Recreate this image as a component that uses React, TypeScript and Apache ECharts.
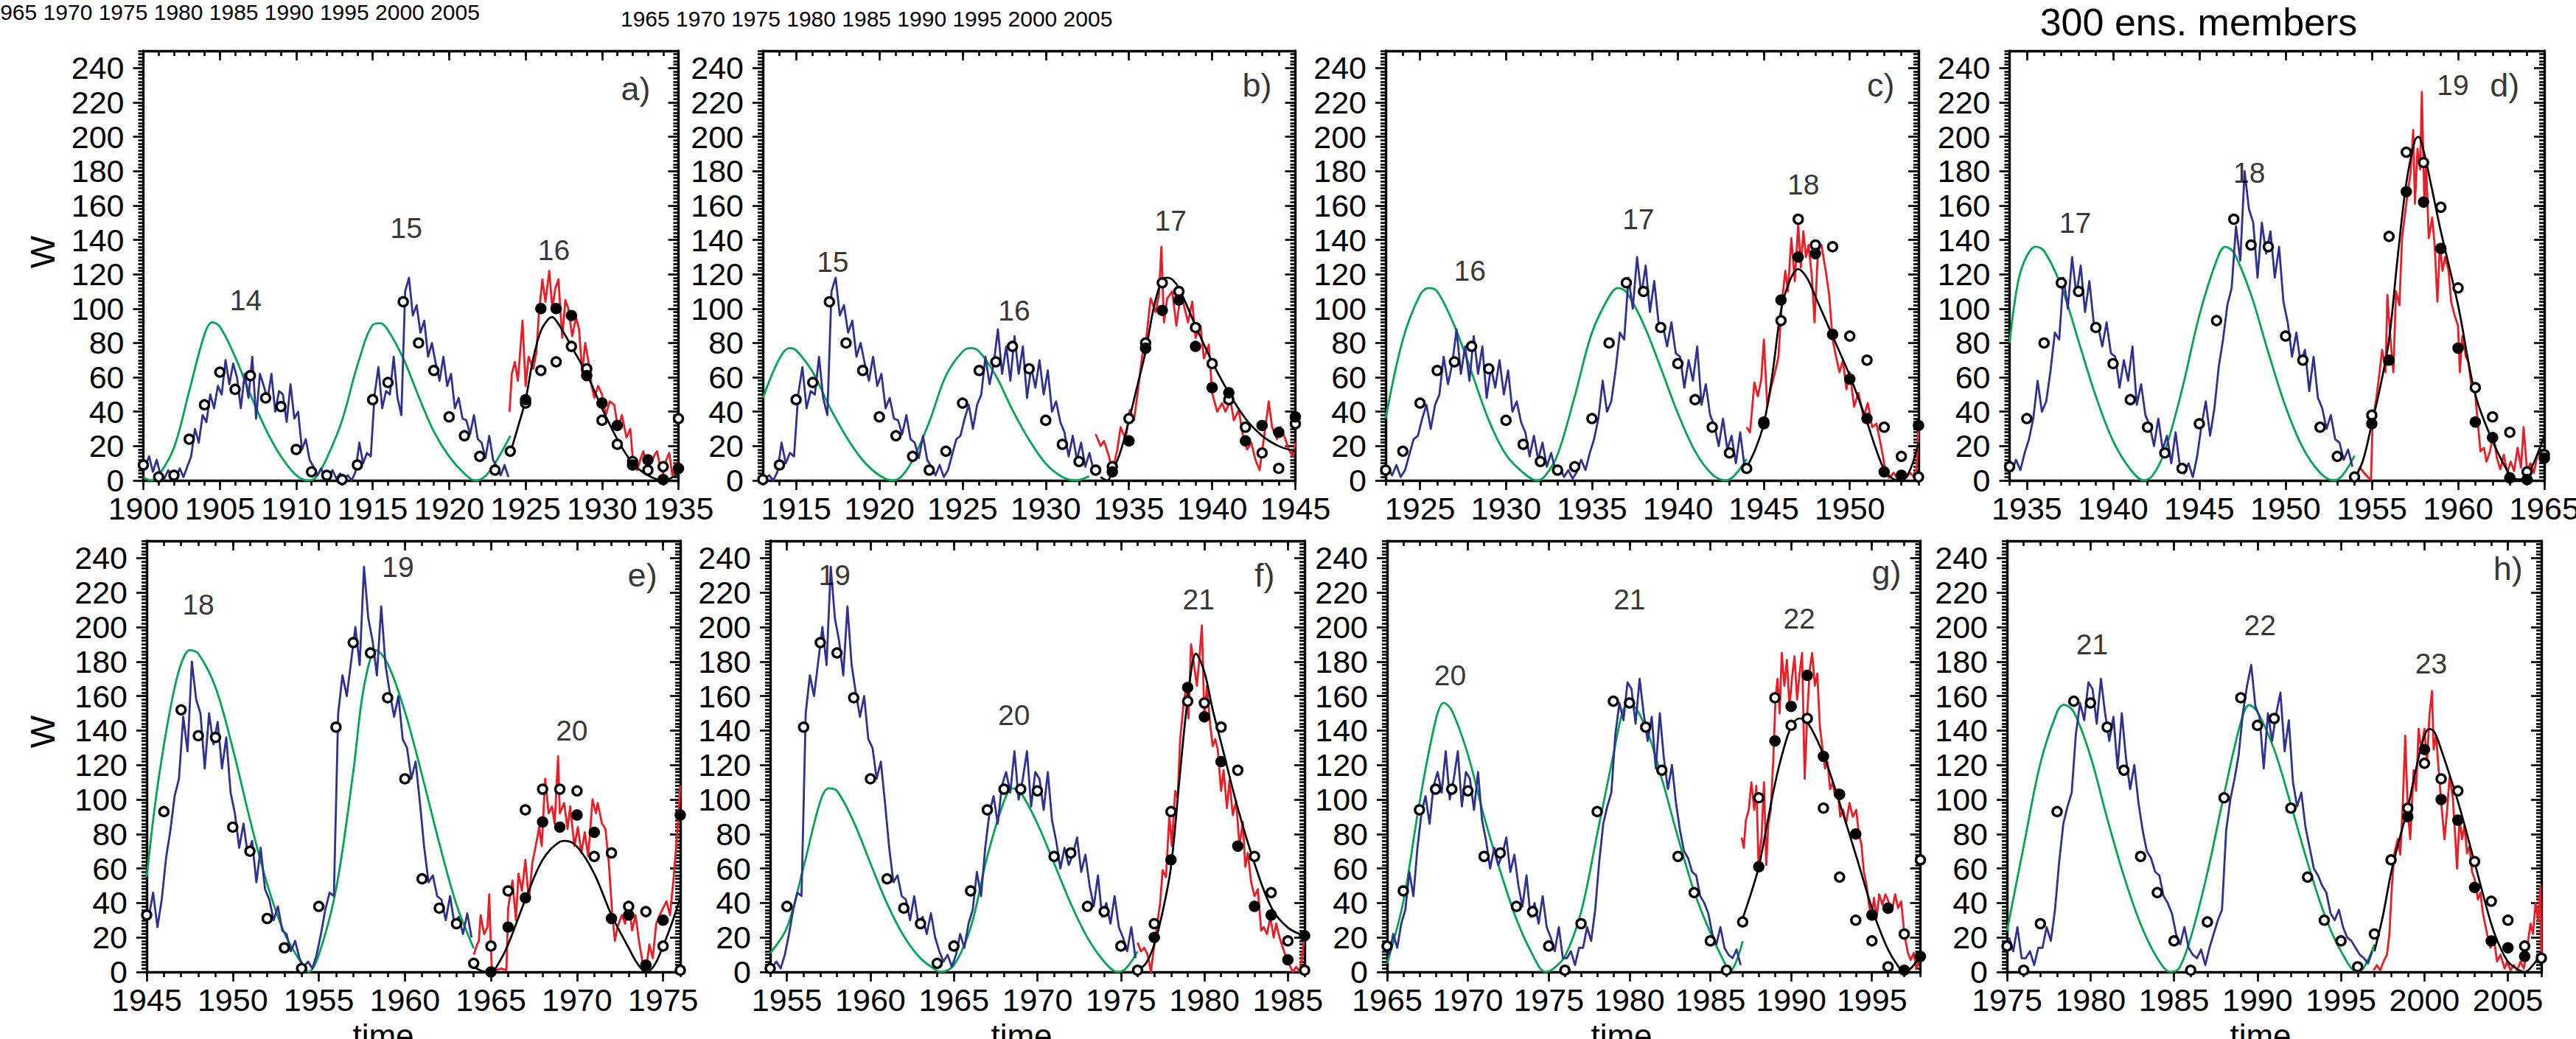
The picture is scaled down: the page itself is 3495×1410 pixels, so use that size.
import React, { useEffect, useRef } from "react";
import * as echarts from "echarts";

const FONT = "'Liberation Sans', Arial, Helvetica, sans-serif";
const BLUE = "#2e3192";
const RED = "#ed1c24";
const GREEN = "#00a651";
const BLACK = "#000000";

const Y_TICK_VALUES = [0, 20, 40, 60, 80, 100, 120, 140, 160, 180, 200, 220, 240];
const Y_MAX = 250;

const OBS_FIRST_YEAR = 1900;
const OBS_QUARTERLY = [
  [8, 14, 5, 12], [3, 1, 6, 2], [1, 7, 2, 8], [14, 30, 22, 38], [34, 50, 42, 55],
  [50, 70, 56, 68], [60, 42, 62, 48], [72, 36, 62, 55], [47, 62, 40, 52], [50, 34, 56, 36],
  [40, 18, 24, 12], [8, 3, 7, 2], [2, 6, 1, 4], [1, 3, 0, 5], [22, 10, 16, 14],
  [50, 66, 42, 52], [50, 72, 48, 38], [110, 118, 96, 102], [86, 93, 72, 80], [68, 58, 72, 55],
  [62, 42, 48, 36], [35, 27, 38, 24], [22, 13, 26, 12], [8, 3, 9, 2], [6, 15, 24, 26],
  [36, 44, 30, 44], [50, 72, 56, 68], [88, 62, 78, 58], [84, 62, 78, 48], [66, 54, 70, 50],
  [64, 40, 46, 34], [28, 14, 26, 12], [22, 8, 16, 6], [8, 2, 6, 1], [5, 12, 6, 16],
  [24, 36, 58, 40], [46, 64, 86, 82], [118, 100, 130, 108], [125, 98, 116, 92], [90, 78, 92, 74],
  [72, 54, 70, 58], [78, 44, 56, 38], [32, 20, 36, 18], [26, 10, 28, 8], [4, 10, 2, 14],
  [32, 46, 26, 42], [66, 82, 102, 112], [148, 128, 180, 158], [150, 118, 150, 132], [145, 118, 136, 104],
  [92, 72, 86, 68], [76, 52, 72, 48], [42, 30, 38, 24], [22, 12, 18, 8], [3, 6, 2, 10],
  [22, 36, 46, 44], [150, 172, 160, 180], [200, 178, 235, 205], [192, 172, 212, 178], [162, 148, 160, 135],
  [130, 112, 122, 98], [72, 52, 56, 44], [42, 30, 44, 28], [32, 22, 34, 20], [12, 6, 10, 3],
  [10, 22, 14, 28], [36, 58, 44, 72], [92, 102, 86, 108], [116, 104, 128, 100], [112, 128, 96, 116],
  [112, 94, 116, 88], [76, 60, 72, 62], [68, 78, 58, 68], [50, 38, 56, 32], [40, 28, 44, 26],
  [20, 12, 26, 8], [8, 12, 4, 14], [14, 26, 18, 36], [64, 86, 96, 104], [138, 156, 146, 168],
  [164, 144, 170, 150], [134, 148, 118, 150], [124, 106, 120, 98], [82, 70, 66, 58], [56, 44, 40, 34],
  [22, 16, 26, 14], [10, 8, 13, 4], [14, 22, 30, 36], [82, 100, 112, 126], [150, 166, 178, 154],
  [148, 118, 150, 134], [150, 162, 128, 146], [110, 96, 104, 84], [72, 60, 56, 50], [46, 34, 30, 36],
  [26, 20, 18, 14], [10, 8, 5, 12],
];

// Annual values (open circles)
const ANNUAL_FIRST_YEAR = 1900;
const ANNUAL_MEANS = [
  9, 2, 3, 24, 44, 63, 53, 61, 48, 43,
  18, 5, 3, 0.5, 9, 47, 57, 104, 80, 64,
  37, 26, 14, 6, 17, 45, 64, 69, 78, 65,
  35, 21, 11, 6, 8, 36, 80, 115, 110, 89,
  68, 47, 31, 16, 7, 33, 93, 152, 137, 136,
  84, 70, 31, 14, 2, 38, 142, 191, 185, 159,
  112, 54, 37, 28, 5, 15, 47, 94, 106, 106,
  105, 67, 69, 38, 35, 15, 1, 28, 93, 157,
  156, 142, 117, 67, 46, 18, 1, 29, 101, 159,
  143, 147, 95, 55, 30, 18, 3, 22, 65, 95,
  121, 112, 105, 64, 41, 30, 15, 8,
];

// Green model curves
const GREEN_A = [[1900, 2], [1900.5, 0], [1901, 3], [1902, 19], [1903, 52], [1904, 85], [1904.5, 92], [1905, 89.5], [1906, 72], [1907, 50], [1908, 30], [1909, 14], [1910, 3], [1910.8, 0], [1911.3, 2], [1912, 13], [1913, 35], [1914, 67], [1915, 90.5], [1915.5, 91.5], [1916, 87.5], [1917, 71], [1918, 49], [1919, 28.5], [1920, 14], [1921, 4], [1921.7, 0], [1922.3, 2], [1923, 10], [1924, 26]];
const GREEN_B = [[1913, 48], [1914, 71], [1914.6, 77], [1915, 75.7], [1916, 63], [1917, 43], [1918, 25.6], [1919, 11.8], [1920, 3], [1920.8, 0], [1921.3, 2], [1922, 11.8], [1923, 34], [1924, 61], [1925, 75], [1925.5, 77], [1926, 75], [1927, 61], [1928, 41], [1929, 23.6], [1930, 9.8], [1931, 2], [1931.8, 0], [1932.6, 2.5]];
const GREEN_C = [[1923, 36], [1924, 82], [1925, 108], [1925.5, 112], [1926, 110], [1927, 90], [1928, 63], [1929, 35], [1930, 15], [1931, 4.5], [1931.8, 0], [1932.3, 3], [1933, 15], [1934, 49], [1935, 86], [1936, 107], [1936.5, 112], [1937, 109.6], [1938, 91], [1939, 65.6], [1940, 39], [1941, 17], [1942, 3.5], [1942.8, 0], [1943.3, 3], [1944, 12.4]];
const GREEN_D = [[1934, 80], [1934.5, 116], [1935, 130.6], [1935.5, 136], [1936, 133.6], [1937, 113], [1938, 81], [1939, 49], [1940, 23], [1941, 6.5], [1941.8, 0], [1942.3, 3], [1943, 17], [1944, 53], [1945, 96], [1946, 128], [1946.5, 136], [1947, 132.6], [1948, 108], [1949, 74.5], [1950, 43], [1951, 19], [1952, 4.5], [1952.8, 0], [1953.3, 3], [1954, 14.4]];
const GREEN_E = [[1945, 55], [1945.5, 98], [1946, 131.6], [1946.5, 159], [1947, 178.7], [1947.5, 186.6], [1948, 184.6], [1949, 165], [1950, 129.6], [1951, 88.4], [1952, 51], [1953, 22.6], [1954, 4.9], [1954.4, 0], [1955, 10], [1956, 48], [1957, 116], [1957.5, 158], [1958, 182], [1958.3, 186.6], [1959, 178.7], [1960, 151], [1961, 114], [1962, 74.6], [1963, 39], [1964, 13.7]];
const GREEN_F = [[1954, 11], [1955, 25.7], [1956, 61], [1957, 99], [1957.5, 106.5], [1958, 105], [1959, 87], [1960, 63], [1961, 39.6], [1962, 20.8], [1963, 7.9], [1964, 0.6], [1964.2, 0], [1965, 4], [1966, 25.7], [1967, 67], [1968, 99], [1968.5, 106.5], [1969, 104], [1970, 86], [1971, 63], [1972, 39.6], [1973, 19.8], [1974, 6], [1974.8, 0], [1975.3, 2], [1976, 11.9]];
const GREEN_G = [[1965, 5], [1966, 40.7], [1967, 98], [1968, 145.8], [1968.5, 156], [1969, 151.7], [1970, 126], [1971, 90], [1972, 58.5], [1973, 30.7], [1974, 10], [1974.8, 0], [1975.3, 2], [1976, 9], [1977, 34.7], [1978, 80], [1979, 126], [1979.6, 151.7], [1980, 155.7], [1981, 141.8], [1982, 112], [1983, 78], [1984, 46.6], [1985, 22.8], [1986, 3], [1986.2, 0], [1986.6, 6], [1987, 17.8]];
const GREEN_H = [[1975, 23.8], [1976, 73], [1977, 121], [1978, 150.8], [1978.4, 155], [1979, 150.8], [1980, 125], [1981, 89], [1982, 55.6], [1983, 27.8], [1984, 8], [1984.8, 0], [1985.3, 2], [1986, 19.8], [1987, 57.5], [1988, 103], [1989, 144.8], [1989.5, 154.8], [1990, 150.8], [1991, 129], [1992, 97], [1993, 63.5], [1994, 33.7], [1995, 12], [1996, 0], [1996.4, 3], [1997, 15.9]];

// Red curves (forecast interval)
const RED_A = [[1923.95, 40], [1924.1, 62], [1924.3, 69], [1924.5, 58], [1924.8, 93], [1925.0, 55], [1925.2, 72], [1925.5, 65], [1925.7, 74], [1925.9, 100], [1926.1, 117], [1926.3, 104], [1926.55, 122], [1926.75, 100], [1926.95, 112], [1927.15, 117], [1927.4, 83], [1927.6, 105], [1927.8, 100], [1928.05, 84], [1928.3, 95], [1928.5, 88], [1928.7, 63], [1928.9, 80], [1929.1, 70], [1929.3, 56], [1929.5, 48], [1929.75, 55], [1930, 50], [1930.25, 38], [1930.5, 46], [1930.8, 44], [1931.05, 30], [1931.3, 38], [1931.6, 25], [1931.85, 30], [1932.0, 14], [1932.3, 6], [1932.5, 12], [1932.7, 17], [1932.95, 8], [1933.2, 10], [1933.45, 15], [1933.6, 17], [1933.8, 8], [1934.0, 4], [1934.2, 12], [1934.4, 16], [1934.6, 3], [1934.8, 10], [1935, 5]];
const RED_B = [[1933.0, 27], [1933.3, 20], [1933.5, 23], [1933.8, 14], [1934.0, 5], [1934.3, 18], [1934.5, 31], [1934.8, 24], [1935.05, 41], [1935.3, 35], [1935.55, 53], [1935.8, 73], [1936.0, 79], [1936.3, 106], [1936.6, 98], [1936.8, 108], [1936.95, 136], [1937.1, 92], [1937.3, 106], [1937.6, 110], [1937.85, 90], [1938.1, 108], [1938.3, 102], [1938.55, 92], [1938.8, 104], [1939.0, 83], [1939.3, 90], [1939.5, 71], [1939.8, 79], [1940.0, 51], [1940.3, 40], [1940.6, 45], [1940.8, 40], [1941.1, 47], [1941.3, 35], [1941.6, 41], [1941.85, 26], [1942.1, 18], [1942.35, 22], [1942.6, 12], [1942.85, 6], [1943.1, 24], [1943.4, 46], [1943.6, 31], [1943.9, 24], [1944.1, 31], [1944.4, 24], [1944.6, 18], [1944.85, 14], [1945.0, 22]];
const RED_C = [[1944.0, 31], [1944.2, 28], [1944.45, 57], [1944.65, 49], [1944.85, 59], [1945.0, 82], [1945.2, 43], [1945.4, 53], [1945.65, 63], [1945.85, 72], [1946.05, 104], [1946.25, 122], [1946.4, 110], [1946.6, 141], [1946.8, 116], [1947.0, 149], [1947.15, 124], [1947.3, 145], [1947.45, 130], [1947.6, 137], [1947.8, 118], [1947.95, 92], [1948.15, 134], [1948.35, 137], [1948.6, 122], [1948.8, 108], [1949.0, 82], [1949.2, 72], [1949.4, 63], [1949.6, 70], [1949.8, 53], [1950.0, 63], [1950.25, 43], [1950.5, 51], [1950.8, 37], [1951.05, 45], [1951.3, 31], [1951.55, 33], [1951.8, 21], [1951.95, 13], [1952.1, 3.5], [1952.3, 1.6], [1952.55, 4.5], [1952.8, 0.6], [1953.05, 3.5], [1953.3, 1.6], [1953.5, 4.5], [1953.75, 2], [1953.9, 8], [1954.0, 30]];
const RED_D = [[1954.05, 1.6], [1954.3, 7.5], [1954.55, 4.5], [1954.8, 1.6], [1954.95, 0.6], [1955.05, 35], [1955.25, 47], [1955.45, 63], [1955.6, 76], [1955.8, 63], [1955.9, 108], [1956.1, 80], [1956.25, 63], [1956.4, 110], [1956.6, 102], [1956.75, 141], [1956.95, 157], [1957.1, 169], [1957.25, 179], [1957.4, 204], [1957.5, 161], [1957.65, 193], [1957.8, 181], [1957.9, 226], [1958.05, 161], [1958.15, 185], [1958.3, 141], [1958.5, 153], [1958.65, 136], [1958.8, 104], [1958.95, 137], [1959.1, 122], [1959.25, 130], [1959.45, 122], [1959.6, 104], [1959.8, 96], [1960.0, 90], [1960.1, 63], [1960.25, 84], [1960.45, 72], [1960.6, 69], [1960.8, 53], [1960.95, 55], [1961.15, 33], [1961.3, 17], [1961.5, 19], [1961.65, 11], [1961.85, 17], [1962.05, 27], [1962.25, 13], [1962.45, 6.5], [1962.65, 15], [1962.85, 4.5], [1963.05, 11], [1963.25, 5.5], [1963.45, 19], [1963.65, 7.5], [1963.8, 31], [1964.0, 5.5], [1964.2, 10], [1964.4, 4.5], [1964.6, 15], [1964.85, 17], [1965, 14]];
const RED_E = [[1964.0, 10], [1964.2, 16], [1964.3, 18], [1964.4, 33], [1964.6, 22], [1964.8, 26], [1964.9, 45], [1965.0, 14], [1965.05, 2], [1965.3, 1], [1965.6, 2], [1965.9, 1], [1966.0, 37], [1966.25, 53], [1966.45, 30], [1966.6, 57], [1966.8, 47], [1967.0, 65], [1967.2, 41], [1967.4, 63], [1967.6, 73], [1967.8, 84], [1967.95, 73], [1968.15, 112], [1968.35, 92], [1968.55, 96], [1968.7, 86], [1968.9, 125], [1969.0, 92], [1969.25, 98], [1969.45, 83], [1969.6, 96], [1969.85, 73], [1970.05, 84], [1970.25, 69], [1970.45, 81], [1970.65, 67], [1970.9, 100], [1971.1, 92], [1971.2, 98], [1971.45, 86], [1971.65, 83], [1971.85, 63], [1972.05, 33], [1972.2, 18], [1972.35, 26], [1972.6, 33], [1972.8, 28], [1973.0, 41], [1973.2, 24], [1973.4, 33], [1973.6, 18], [1973.8, 6], [1974.0, 0], [1974.2, 16], [1974.4, 8], [1974.6, 28], [1974.8, 33], [1975.0, 37], [1975.2, 41], [1975.4, 33], [1975.6, 53], [1975.85, 84], [1976.0, 108]];
const RED_F = [[1976.0, 17], [1976.2, 12], [1976.4, 14], [1976.6, 10], [1976.8, 0], [1976.95, 12], [1977.15, 26], [1977.35, 40], [1977.5, 59], [1977.7, 55], [1977.9, 91], [1978.05, 73], [1978.25, 105], [1978.4, 101], [1978.55, 135], [1978.75, 155], [1978.9, 164], [1979.05, 147], [1979.2, 190], [1979.35, 180], [1979.55, 166], [1979.7, 182], [1979.85, 201], [1980.0, 147], [1980.15, 166], [1980.35, 143], [1980.5, 131], [1980.65, 135], [1980.8, 129], [1981.0, 105], [1981.15, 117], [1981.35, 95], [1981.5, 111], [1981.7, 91], [1981.9, 99], [1982.1, 73], [1982.3, 87], [1982.45, 61], [1982.6, 69], [1982.8, 52], [1983.0, 44], [1983.2, 48], [1983.4, 24], [1983.55, 26], [1983.75, 22], [1983.95, 32], [1984.15, 20], [1984.3, 28], [1984.5, 20], [1984.7, 14], [1984.9, 8], [1985.1, 4], [1985.3, 0], [1985.5, 3], [1985.7, 0], [1985.9, 12], [1986.0, 22]];
const RED_G = [[1986.94, 78], [1987.07, 72], [1987.2, 88], [1987.38, 94], [1987.54, 110], [1987.72, 94], [1987.85, 108], [1987.98, 64], [1988.17, 78], [1988.32, 110], [1988.46, 62], [1988.59, 86], [1988.74, 94], [1988.9, 124], [1989.03, 158], [1989.16, 170], [1989.29, 150], [1989.42, 185], [1989.58, 166], [1989.74, 181], [1989.9, 154], [1990.05, 170], [1990.21, 183], [1990.37, 158], [1990.52, 173], [1990.68, 185], [1990.84, 112], [1991.0, 150], [1991.15, 175], [1991.3, 185], [1991.47, 166], [1991.62, 173], [1991.78, 142], [1991.94, 130], [1992.1, 118], [1992.25, 122], [1992.41, 106], [1992.57, 110], [1992.72, 102], [1992.88, 106], [1993.04, 90], [1993.22, 94], [1993.4, 86], [1993.61, 98], [1993.82, 90], [1994.03, 94], [1994.19, 80], [1994.35, 74], [1994.5, 58], [1994.66, 51], [1994.82, 39], [1994.97, 31], [1995.13, 43], [1995.29, 31], [1995.45, 45], [1995.65, 39], [1995.84, 45], [1996.02, 41], [1996.23, 35], [1996.44, 45], [1996.62, 37], [1996.81, 41], [1997.02, 21], [1997.23, 11], [1997.4, 7], [1997.59, 11], [1997.75, 2], [1997.9, 6], [1998, 12]];
const RED_H = [[1996.95, 1], [1997.15, 4], [1997.35, 1], [1997.55, 6], [1997.75, 10], [1997.9, 22], [1998.05, 50], [1998.2, 69], [1998.4, 77], [1998.55, 68], [1998.7, 97], [1998.85, 137], [1999.0, 93], [1999.15, 77], [1999.35, 117], [1999.5, 105], [1999.65, 141], [1999.8, 129], [2000.0, 141], [2000.15, 121], [2000.3, 149], [2000.45, 163], [2000.55, 129], [2000.7, 137], [2000.85, 117], [2001.05, 93], [2001.2, 77], [2001.35, 93], [2001.5, 113], [2001.7, 101], [2001.85, 77], [2001.95, 60], [2002.1, 89], [2002.25, 77], [2002.4, 85], [2002.55, 69], [2002.7, 73], [2002.85, 58], [2003.0, 54], [2003.2, 42], [2003.35, 46], [2003.5, 34], [2003.75, 22], [2003.95, 14], [2004.15, 20], [2004.35, 6], [2004.55, 10], [2004.8, 2], [2004.95, 6], [2005.15, 1], [2005.35, 4], [2005.55, 1], [2005.75, 6], [2005.95, 2], [2006.15, 14], [2006.35, 28], [2006.5, 22], [2006.65, 40], [2006.8, 30], [2006.95, 50], [2007.0, 10]];

// Black forecast curves
const BLACK_A = [[1924, 16], [1924.5, 31], [1925, 47], [1925.5, 71], [1926, 87], [1926.5, 94], [1926.75, 95], [1927, 93], [1927.5, 86], [1928, 78], [1929, 62], [1930, 42], [1931, 24], [1932, 10], [1933, 3], [1934, 0], [1935, 4]];
const BLACK_B = [[1933.3, 2], [1933.7, 0], [1934, 5], [1934.5, 17], [1935, 35], [1935.5, 55], [1936, 75], [1936.5, 101], [1937, 117], [1937.3, 118], [1937.6, 117], [1938, 112], [1939, 90], [1940, 69], [1941, 51], [1942, 36], [1943, 26], [1944, 20], [1945, 17]];
const BLACK_C = [[1944, 7.5], [1944.5, 18], [1945, 33], [1945.5, 62], [1946, 99], [1946.5, 116], [1947, 123], [1947.5, 118], [1948, 107], [1949, 84], [1950, 61], [1951, 34], [1951.5, 19], [1952, 6.5], [1952.5, 1], [1953, 0], [1953.5, 6], [1954, 22]];
const BLACK_D = [[1954, 0.5], [1954.5, 12], [1955, 33], [1955.5, 55], [1956, 82], [1956.5, 130], [1957, 173], [1957.5, 198], [1957.7, 200], [1958, 192], [1958.5, 169], [1959, 145], [1960, 102], [1961, 50], [1962, 23], [1963, 3.5], [1963.5, 0.6], [1964, 2.5], [1965, 26]];
const BLACK_E = [[1964, 3], [1964.5, 0.5], [1965, 0], [1965.5, 6], [1966, 16], [1967, 42], [1968, 65], [1969, 75.5], [1969.3, 76], [1970, 72.7], [1971, 57], [1972, 33], [1973, 14], [1973.5, 5], [1974, 0], [1974.5, 4], [1975, 15], [1975.5, 28], [1976, 43]];
const BLACK_F = [[1976, 1], [1976.5, 5], [1977, 16], [1977.5, 35], [1978, 61], [1978.5, 111], [1979, 158], [1979.5, 184.6], [1980, 174], [1980.5, 152], [1981, 133], [1982, 95], [1983, 63], [1984, 37.6], [1985, 25.7], [1986, 21]];
const BLACK_G = [[1987, 31], [1987.5, 45], [1988, 61], [1988.5, 85], [1989, 109], [1989.5, 128], [1990, 142], [1990.5, 147], [1991, 145], [1992, 126], [1993, 98], [1994, 68], [1995, 37], [1995.5, 24], [1996, 13], [1996.5, 5], [1997, 0], [1997.5, 3], [1998, 10]];
const BLACK_H = [[1997, 12], [1997.5, 32], [1998, 57.5], [1998.5, 77], [1999, 95], [1999.5, 118], [2000, 137], [2000.3, 141], [2000.6, 139], [2001, 129], [2002, 99], [2003, 63.5], [2004, 27.8], [2004.5, 15], [2005, 6], [2005.5, 2], [2006, 0], [2006.5, 4], [2007, 11]];

// Filled circles (forecast annual values)
const FILLED_A = [[1925, 47], [1926, 100], [1927, 100], [1928, 96], [1929, 61], [1930, 45], [1931, 32], [1932, 9], [1933, 12], [1934, 0.5], [1935, 7]];
const FILLED_B = [[1934, 5], [1935, 23], [1936, 77], [1937, 99], [1938, 105], [1939, 78], [1940, 54], [1941, 51], [1942, 23], [1943, 32], [1944, 28], [1945, 37]];
const FILLED_C = [[1945, 34], [1946, 105], [1947, 130], [1948, 132], [1949, 85], [1950, 59], [1951, 36], [1952, 5], [1953, 3], [1954, 32]];
const FILLED_D = [[1955, 33], [1956, 70], [1957, 168], [1958, 162], [1959, 135], [1960, 77], [1961, 34], [1962, 25], [1963, 1.5], [1964, 0.5], [1965, 13]];
const FILLED_E = [[1965, 0], [1966, 26], [1967, 43], [1968, 87], [1969, 84], [1970, 91], [1971, 81], [1972, 31], [1973, 33], [1974, 4], [1975, 30], [1976, 91]];
const FILLED_F = [[1977, 20], [1978, 65], [1979, 165], [1980, 148], [1981, 122], [1982, 73], [1983, 38], [1984, 33], [1985, 7], [1986, 21]];
const FILLED_G = [[1988, 61], [1989, 134], [1990, 154], [1991, 172], [1992, 125], [1993, 103], [1994, 80], [1995, 33], [1996, 37], [1997, 1], [1998, 9]];
const FILLED_H = [[1999, 90], [2000, 129], [2001, 100], [2002, 88], [2003, 49], [2004, 18], [2005, 14], [2006, 9]];

// Cycle numbers [year, W, label]
const CYCLES_A = [[1906.7, 105, "14"], [1917.2, 147, "15"], [1926.85, 134, "16"]];
const CYCLES_B = [[1917.2, 127, "15"], [1928.1, 99, "16"], [1937.5, 151, "17"]];
const CYCLES_C = [[1927.9, 122, "16"], [1937.7, 152, "17"], [1947.3, 172, "18"]];
const CYCLES_D = [[1937.8, 150, "17"], [1947.9, 179, "18"], [1959.7, 230, "19"]];
const CYCLES_E = [[1948.0, 213, "18"], [1959.6, 235, "19"], [1969.7, 140, "20"]];
const CYCLES_F = [[1957.85, 230, "19"], [1968.6, 149, "20"], [1979.65, 216, "21"]];
const CYCLES_G = [[1968.9, 172, "20"], [1980.0, 216, "21"], [1990.5, 205, "22"]];
const CYCLES_H = [[1980.1, 190, "21"], [1990.15, 201, "22"], [2000.4, 179, "23"]];

const LETTERS = [
  [1932.2, 228, "a)"], [1942.7, 230, "b)"], [1951.8, 230, "c)"], [1962.7, 230, "d)"],
  [1973.8, 230, "e)"], [1983.6, 230, "f)"], [1995.9, 232, "g)"], [2005.0, 234, "h)"],
];

const PANELS = [
  { xMin: 1900, xMax: 1935, split: 1924, green: GREEN_A, red: RED_A, black: BLACK_A, filled: FILLED_A, cycles: CYCLES_A },
  { xMin: 1913, xMax: 1945, split: 1933, green: GREEN_B, red: RED_B, black: BLACK_B, filled: FILLED_B, cycles: CYCLES_B },
  { xMin: 1923, xMax: 1954, split: 1944, green: GREEN_C, red: RED_C, black: BLACK_C, filled: FILLED_C, cycles: CYCLES_C },
  { xMin: 1934, xMax: 1965, split: 1954, green: GREEN_D, red: RED_D, black: BLACK_D, filled: FILLED_D, cycles: CYCLES_D },
  { xMin: 1945, xMax: 1976, split: 1964, green: GREEN_E, red: RED_E, black: BLACK_E, filled: FILLED_E, cycles: CYCLES_E },
  { xMin: 1954, xMax: 1986, split: 1976, green: GREEN_F, red: RED_F, black: BLACK_F, filled: FILLED_F, cycles: CYCLES_F },
  { xMin: 1965, xMax: 1998, split: 1987, green: GREEN_G, red: RED_G, black: BLACK_G, filled: FILLED_G, cycles: CYCLES_G },
  { xMin: 1975, xMax: 2007, split: 1997, green: GREEN_H, red: RED_H, black: BLACK_H, filled: FILLED_H, cycles: CYCLES_H },
];

// Layout (pixels)
const LAYOUT = [
  { left: 194.5, top: 69, width: 726, height: 583 },
  { left: 1035, top: 69, width: 722.5, height: 583 },
  { left: 1880, top: 69, width: 723, height: 583 },
  { left: 2726.5, top: 69, width: 725.5, height: 583 },
  { left: 199, top: 734, width: 724, height: 585 },
  { left: 1045, top: 734, width: 725, height: 585 },
  { left: 1882, top: 734, width: 723.5, height: 585 },
  { left: 2723, top: 734, width: 725, height: 585 },
];

function obsSegment(from: number, to: number) {
  const out: number[][] = [];
  OBS_QUARTERLY.forEach((row, i) => {
    row.forEach((v, k) => {
      const t = OBS_FIRST_YEAR + i + (k + 0.5) / 4;
      if (t >= from && t <= to) out.push([t, v]);
    });
  });
  return out;
}

function annualSegment(from: number, to: number) {
  const out: number[][] = [];
  ANNUAL_MEANS.forEach((v, i) => {
    const y = ANNUAL_FIRST_YEAR + i;
    if (y >= from && y <= to) out.push([y, v]);
  });
  return out;
}

function buildOption() {
  const grid: any[] = [];
  const xAxis: any[] = [];
  const yAxis: any[] = [];
  const series: any[] = [];
  const lineW = 3.4;
  const tickW = 2.6;

  PANELS.forEach((p, i) => {
    const L = LAYOUT[i];
    grid.push({ left: L.left, top: L.top, width: L.width, height: L.height, containLabel: false, outerBoundsMode: "none" });
    const majorX: number[] = [];
    for (let y = Math.ceil(p.xMin / 5) * 5; y <= p.xMax; y += 5) majorX.push(y);

    const xBase = xAxis.length;
    const common = { type: "value", gridIndex: i, min: p.xMin, max: p.xMax, splitLine: { show: false }, offset: 0 };
    xAxis.push({
      ...common, position: "bottom",
      axisLine: { show: true, onZero: false, lineStyle: { color: BLACK, width: lineW } },
      axisTick: { show: true, inside: false, length: 13, customValues: majorX, lineStyle: { color: BLACK, width: tickW } },
      axisLabel: { show: true, customValues: majorX, fontSize: 43, color: BLACK, fontFamily: FONT, margin: 16, formatter: (v: number) => String(v) },
    });
    xAxis.push({
      ...common, position: "bottom", interval: 1,
      axisLine: { show: false, onZero: false },
      axisTick: { show: true, inside: false, length: 7, lineStyle: { color: BLACK, width: tickW } },
      axisLabel: { show: false },
    });
    xAxis.push({
      ...common, position: "top",
      axisLine: { show: true, onZero: false, lineStyle: { color: BLACK, width: lineW } },
      axisTick: { show: true, inside: true, length: 13, customValues: majorX, lineStyle: { color: BLACK, width: tickW } },
      axisLabel: { show: false },
    });
    xAxis.push({
      ...common, position: "top", interval: 1,
      axisLine: { show: false, onZero: false },
      axisTick: { show: true, inside: true, length: 7, lineStyle: { color: BLACK, width: tickW } },
      axisLabel: { show: false },
    });

    const yBase = yAxis.length;
    const ycommon = { type: "value", gridIndex: i, min: 0, max: Y_MAX, splitLine: { show: false }, offset: 0 };
    yAxis.push({
      ...ycommon, position: "left",
      axisLine: { show: true, onZero: false, lineStyle: { color: BLACK, width: lineW } },
      axisTick: { show: true, inside: false, length: 14, customValues: Y_TICK_VALUES, lineStyle: { color: BLACK, width: tickW } },
      axisLabel: { show: true, customValues: Y_TICK_VALUES, fontSize: 43, color: BLACK, fontFamily: FONT, margin: 26, formatter: (v: number) => String(v) },
    });
    yAxis.push({
      ...ycommon, position: "left", interval: 2,
      axisLine: { show: false, onZero: false },
      axisTick: { show: true, inside: false, length: 7, lineStyle: { color: BLACK, width: tickW } },
      axisLabel: { show: false },
    });
    yAxis.push({
      ...ycommon, position: "right",
      axisLine: { show: true, onZero: false, lineStyle: { color: BLACK, width: lineW } },
      axisTick: { show: true, inside: true, length: 14, customValues: Y_TICK_VALUES, lineStyle: { color: BLACK, width: tickW } },
      axisLabel: { show: false },
    });
    yAxis.push({
      ...ycommon, position: "right", interval: 2,
      axisLine: { show: false, onZero: false },
      axisTick: { show: true, inside: true, length: 7, lineStyle: { color: BLACK, width: tickW } },
      axisLabel: { show: false },
    });

    const ax = { xAxisIndex: xBase, yAxisIndex: yBase, silent: true, animation: false };
    series.push({ ...ax, type: "line", data: p.green, smooth: 0.35, symbol: "none", lineStyle: { color: GREEN, width: 2.8 }, z: 2 });
    series.push({ ...ax, type: "line", data: obsSegment(p.xMin, p.split), symbol: "none", lineStyle: { color: BLUE, width: 2.8, join: "round" }, z: 3 });
    series.push({ ...ax, type: "line", data: p.red, symbol: "none", lineStyle: { color: RED, width: 2.8, join: "round" }, z: 4 });
    series.push({ ...ax, type: "line", data: p.black, smooth: 0.35, symbol: "none", lineStyle: { color: BLACK, width: 2.7 }, z: 5 });
    series.push({ ...ax, type: "scatter", data: annualSegment(p.xMin, p.xMax), symbol: "circle", symbolSize: 12, itemStyle: { color: "#ffffff", borderColor: BLACK, borderWidth: 3.4, opacity: 1 }, z: 6 });
    series.push({ ...ax, type: "scatter", data: p.filled, symbol: "circle", symbolSize: 15.5, itemStyle: { color: BLACK, opacity: 1 }, z: 7 });
    series.push({
      ...ax, type: "scatter", data: p.cycles, symbolSize: 1, itemStyle: { color: "transparent" }, z: 8,
      label: { show: true, position: "inside", fontSize: 39, color: BLACK, textBorderWidth: 0, fontFamily: FONT, formatter: (q: any) => q.data[2] },
    });
    series.push({
      ...ax, type: "scatter", data: [LETTERS[i]], symbolSize: 1, itemStyle: { color: "transparent" }, z: 8,
      label: { show: true, position: "inside", fontSize: 45, color: BLACK, textBorderWidth: 0, fontFamily: FONT, formatter: (q: any) => q.data[2] },
    });
  });

  const txt = (text: string, x: number, y: number, size: number, align = "center", rotation = 0) => ({
    type: "text", x, y, rotation, silent: true,
    style: { text, fontSize: size, fontFamily: FONT, fill: BLACK, align, verticalAlign: "middle" },
  });

  const graphic = [
    txt("1965 1970 1975 1980 1985 1990 1995 2000 2005", -16.5, 16, 30, "left"),
    txt("1965 1970 1975 1980 1985 1990 1995 2000 2005", 842, 25, 30, "left"),
    txt("300 ens. members", 2983, 30, 52),
    txt("W", 57, 342, 47, "center", Math.PI / 2),
    txt("W", 57, 993, 47, "center", Math.PI / 2),
    txt("time", 520, 1405, 44),
    txt("time", 1386, 1405, 44),
    txt("time", 2200, 1405, 44),
    txt("time", 3067, 1405, 44),
  ];

  return {
    animation: false,
    backgroundColor: "#ffffff",
    textStyle: { fontFamily: FONT },
    grid, xAxis, yAxis, series, graphic,
  };
}

export default function App() {
  const ref = useRef<HTMLDivElement>(null);
  useEffect(() => {
    if (!ref.current) return;
    const chart = echarts.init(ref.current, null, { renderer: "svg" });
    chart.setOption(buildOption() as any);
    return () => chart.dispose();
  }, []);
  return (
    <div
      ref={ref}
      style={{ position: "fixed", left: 0, top: 0, width: 3495, height: 1410, background: "#fff" }}
    />
  );
}
